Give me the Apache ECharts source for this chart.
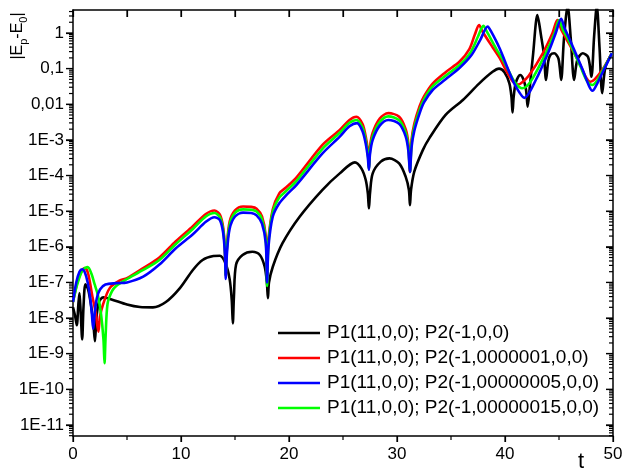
<!DOCTYPE html>
<html>
<head>
<meta charset="utf-8">
<script src="https://cdn.jsdelivr.net/npm/echarts@6/dist/echarts.min.js"></script>
<style>
  html, body { margin: 0; padding: 0; background: #fff; }
  #chart { width: 628px; height: 473px; background: #fff; }
</style>
</head>
<body>
<div id="chart"></div>
<script>
// Energy deviation |Ep - E0| versus time t for four initial positions of P2.
// Values are stored as log10 |Ep - E0| and drawn on a decade-scaled value axis.

const seriesNames = [
  'P1(11,0,0); P2(-1,0,0)',
  'P1(11,0,0); P2(-1,0000001,0,0)',
  'P1(11,0,0); P2(-1,00000005,0,0)',
  'P1(11,0,0); P2(-1,00000015,0,0)'
];

const tBlack = [0,0.2,0.35,0.5,0.6,0.72,0.85,0.97,1.15,1.4,1.7,1.9,2.03,2.17,2.4,2.8,3.5,5.0,6.2,7.4,8.6,9.9,11.1,12.0,13.0,13.6,14.1,14.5,14.7,14.8,14.9,15.1,15.7,16.6,17.3,17.75,17.95,18.05,18.15,18.5,19.4,21.0,23.1,24.7,26.1,26.7,27.1,27.3,27.4,27.5,27.75,28.5,29.3,30.2,30.8,31.1,31.2,31.3,31.6,32.4,33.0,34.5,36.1,37.6,38.85,39.45,39.95,40.4,40.6,40.7,40.8,41.0,41.4,41.7,41.95,42.1,42.3,42.6,43.0,43.35,43.6,43.8,44.0,44.2,44.55,44.95,45.2,45.45,45.8,46.1,46.4,46.7,47.2,47.7,48.0,48.25,48.5,48.75,49.0,49.3,49.9];
const logBlack = [-7.70,-7.95,-8.20,-7.60,-7.30,-7.90,-8.60,-7.70,-7.05,-7.20,-7.70,-8.20,-8.65,-8.00,-7.55,-7.42,-7.47,-7.62,-7.69,-7.70,-7.55,-7.16,-6.65,-6.37,-6.26,-6.25,-6.45,-6.90,-7.50,-8.15,-7.40,-6.50,-6.23,-6.14,-6.23,-6.56,-7.00,-7.44,-7.00,-6.56,-5.90,-5.15,-4.40,-3.94,-3.63,-3.80,-4.12,-4.50,-4.92,-4.50,-3.94,-3.61,-3.52,-3.66,-4.03,-4.40,-4.83,-4.40,-3.89,-3.28,-2.95,-2.30,-1.88,-1.42,-1.09,-1.00,-1.10,-1.41,-1.80,-2.23,-1.80,-1.40,-1.18,-1.30,-1.60,-2.07,-1.50,-0.60,0.50,-0.10,-0.60,-1.32,-0.80,-0.62,-0.57,-0.72,-1.32,-0.20,0.75,-0.20,-1.32,-0.75,-0.57,-0.68,-1.23,-0.10,0.75,-0.40,-1.69,-0.95,-0.57];

const tRed = [0,0.4,0.8,1.1,1.4,1.8,2.1,2.35,2.5,2.8,3.4,4.3,5.0,6.5,8.0,9.5,11.1,12.3,13.1,13.6,13.9,14.05,14.14,14.25,14.5,15.0,15.75,16.5,17.0,17.5,17.85,17.97,18.1,18.5,19.1,19.75,20.7,23.1,24.7,25.6,26.25,26.8,27.1,27.3,27.4,27.5,27.75,28.4,29.2,30.2,30.8,31.05,31.2,31.35,31.6,32.1,32.5,33.3,34.5,35.8,36.7,37.2,37.6,37.9,38.85,39.5,40.1,40.7,41.2,41.6,42.2,43.5,44.4,44.85,45.2,45.6,46.9,47.5,47.9,48.3,49.0,49.9];
const logRed = [-7.55,-7.00,-6.68,-6.60,-6.75,-7.40,-7.85,-8.38,-7.95,-7.60,-7.16,-6.95,-6.88,-6.60,-6.30,-5.85,-5.42,-5.08,-4.98,-5.10,-5.45,-6.00,-6.80,-6.00,-5.30,-4.98,-4.87,-4.88,-4.93,-5.15,-5.70,-6.80,-5.80,-4.95,-4.50,-4.33,-4.05,-3.14,-2.72,-2.44,-2.35,-2.55,-2.90,-3.30,-3.80,-3.20,-2.80,-2.40,-2.25,-2.35,-2.70,-3.10,-3.90,-3.00,-2.55,-2.05,-1.78,-1.42,-1.10,-0.80,-0.45,-0.05,0.22,0.05,-0.40,-0.70,-1.05,-1.35,-1.45,-1.38,-1.20,-0.57,0.00,0.36,0.10,-0.12,-0.85,-1.25,-1.37,-1.30,-1.04,-0.57];

const tBlue = [0,0.3,0.6,0.85,1.1,1.36,1.6,1.75,1.87,2.0,2.2,2.5,3.0,4.0,5.0,6.5,8.0,9.5,11.1,12.3,13.1,13.6,13.9,14.07,14.15,14.25,14.5,15.0,15.75,16.5,17.0,17.5,17.85,17.97,18.1,18.5,19.1,19.75,20.7,23.1,24.7,25.6,26.3,26.8,27.1,27.3,27.4,27.5,27.75,28.4,29.2,30.2,30.8,31.05,31.2,31.35,31.6,32.1,32.5,33.3,34.5,35.8,36.9,37.7,38.4,38.7,39.5,40.4,41.0,41.8,42.85,44.1,44.7,45.2,45.5,45.9,47.2,47.8,48.1,48.4,49.0,49.9];
const logBlue = [-7.55,-7.00,-6.70,-6.63,-6.72,-7.00,-7.45,-7.90,-8.30,-7.90,-7.45,-7.20,-7.06,-7.02,-7.00,-6.84,-6.50,-6.05,-5.65,-5.30,-5.17,-5.25,-5.60,-6.20,-6.90,-6.20,-5.50,-5.15,-5.04,-5.05,-5.12,-5.35,-5.90,-7.00,-6.00,-5.15,-4.78,-4.55,-4.26,-3.38,-2.91,-2.62,-2.53,-2.75,-3.10,-3.50,-3.84,-3.40,-3.00,-2.60,-2.44,-2.55,-2.90,-3.30,-3.90,-3.20,-2.75,-2.25,-1.95,-1.60,-1.30,-0.98,-0.62,-0.20,0.18,0.05,-0.43,-1.10,-1.50,-1.82,-1.32,-0.48,0.00,0.40,0.15,-0.12,-1.04,-1.50,-1.62,-1.50,-1.13,-0.57];

const tGreen = [0,0.4,0.9,1.36,1.7,2.0,2.3,2.6,2.82,2.92,3.02,3.2,3.6,4.0,4.9,6.5,8.0,9.5,11.1,12.3,13.1,13.6,13.9,14.05,14.14,14.25,14.5,15.0,15.75,16.5,17.0,17.5,17.85,17.97,18.1,18.5,19.1,19.75,20.7,23.1,24.7,25.6,26.25,26.8,27.1,27.3,27.4,27.5,27.75,28.4,29.2,30.2,30.8,31.05,31.2,31.35,31.6,32.1,32.5,33.3,34.5,35.8,36.8,37.5,38.0,38.3,39.2,39.8,40.4,41.0,41.6,42.0,42.6,43.8,44.6,45.0,45.35,45.75,47.0,47.6,48.1,48.5,49.0,49.9];
const logGreen = [-7.55,-7.05,-6.65,-6.57,-6.75,-7.05,-7.35,-7.90,-8.60,-9.27,-8.50,-7.60,-7.25,-7.10,-6.92,-6.65,-6.37,-5.93,-5.50,-5.15,-5.05,-5.17,-5.52,-6.00,-6.80,-6.05,-5.38,-5.05,-4.95,-4.96,-5.01,-5.23,-5.80,-7.10,-5.90,-5.02,-4.62,-4.43,-4.15,-3.25,-2.80,-2.52,-2.44,-2.65,-3.00,-3.40,-3.82,-3.30,-2.90,-2.50,-2.34,-2.45,-2.80,-3.20,-3.90,-3.10,-2.65,-2.15,-1.86,-1.50,-1.20,-0.90,-0.55,-0.10,0.20,0.05,-0.45,-0.75,-1.10,-1.42,-1.55,-1.50,-1.25,-0.55,0.00,0.36,0.10,-0.12,-0.95,-1.35,-1.46,-1.35,-1.08,-0.57];

// axis ticks and the printed decade labels
const xMajorTicks = [0, 10, 20, 30, 40, 50];
const xMinorTicks = [5, 15, 25, 35, 45];
const yTickExps = [-11, -10, -9, -8, -7, -6, -5, -4, -3, -2, -1, 0];
const yTickLabels = ['1E-11', '1E-10', '1E-9', '1E-8', '1E-7', '1E-6', '1E-5', '1E-4', '1E-3', '0,01', '0,1', '1'];

const X_MIN = 0, X_MAX = 50;
const Y_MIN = -11.31, Y_MAX = 0.645;
const FONT = 'Liberation Sans, Arial, sans-serif';

// minor decade ticks at log10(2..9)
const yMinorTicks = [];
for (let n = -12; n <= 0; n++) {
  for (let k = 2; k <= 9; k++) {
    const v = n + Math.log10(k);
    if (v > Y_MIN && v < Y_MAX) yMinorTicks.push(v);
  }
}

function pairs(ts, vs) {
  const out = [];
  for (let i = 0; i < Math.min(ts.length, vs.length); i++) out.push([ts[i], vs[i]]);
  return out;
}

function lineSeries(name, color, ts, vs) {
  return {
    name: name,
    type: 'line',
    data: pairs(ts, vs),
    showSymbol: false,
    symbol: 'none',
    smooth: 0.3,
    clip: true,
    lineStyle: { color: color, width: 2.6 },
    itemStyle: { color: color },
    emphasis: { disabled: true }
  };
}

function frameLine() {
  return { show: true, onZero: false, lineStyle: { color: '#000', width: 1.5 } };
}

const titleGraphics = [
  {
    id: 'ytitle', type: 'text', x: 18, y: 36, rotation: Math.PI / 2,
    style: {
      text: '{n||E}{s|p}{n|-E}{s|0}{n||}',
      align: 'center', verticalAlign: 'middle', fill: '#000',
      rich: {
        n: { fontFamily: FONT, fontSize: 16, lineHeight: 22, fill: '#000' },
        s: { fontFamily: FONT, fontSize: 11, lineHeight: 11, verticalAlign: 'bottom', fill: '#000' }
      }
    }
  },
  {
    id: 'xtitle', type: 'text', x: 581, y: 462,
    style: { text: 't', fontFamily: FONT, fontSize: 22, fill: '#000', align: 'center', verticalAlign: 'middle' }
  }
];

const chart = echarts.init(document.getElementById('chart'));
chart.setOption({
  animation: false,
  grid: { left: 73, right: 15, top: 10, bottom: 37, containLabel: false },
  legend: {
    data: seriesNames,
    orient: 'vertical',
    left: 273,
    top: 318,
    icon: 'rect',
    itemWidth: 42,
    itemHeight: 2.5,
    itemGap: 5,
    textStyle: { fontFamily: FONT, fontSize: 19, color: '#000', lineHeight: 20, padding: [0, 0, 0, 2] },
    selectedMode: false
  },
  xAxis: [
    {
      type: 'value', position: 'bottom', min: X_MIN, max: X_MAX, interval: 10,
      axisLine: frameLine(),
      axisTick: { show: true, inside: false, length: 6, lineStyle: { color: '#000', width: 1.2 } },
      axisLabel: { show: true, color: '#000', fontFamily: FONT, fontSize: 17, margin: 10 },
      splitLine: { show: false }
    },
    {
      type: 'value', position: 'top', min: X_MIN, max: X_MAX, interval: 5,
      axisLine: frameLine(),
      axisTick: { show: true, inside: true, length: 7, lineStyle: { color: '#000', width: 1.2 } },
      axisLabel: { show: false },
      splitLine: { show: false }
    }
  ],
  yAxis: [
    {
      type: 'value', position: 'left', min: Y_MIN, max: Y_MAX,
      axisLine: frameLine(),
      axisTick: { show: true, inside: false, length: 7, customValues: yTickExps, lineStyle: { color: '#000', width: 1.2 } },
      axisLabel: {
        show: true, color: '#000', fontFamily: FONT, fontSize: 17, margin: 9,
        customValues: yTickExps,
        formatter: function (v) {
          const i = yTickExps.indexOf(Math.round(v));
          return i >= 0 ? yTickLabels[i] : '';
        }
      },
      splitLine: { show: false }
    },
    {
      type: 'value', position: 'right', min: Y_MIN, max: Y_MAX,
      axisLine: frameLine(),
      axisTick: { show: true, inside: true, length: 7, customValues: yTickExps, lineStyle: { color: '#000', width: 1.2 } },
      axisLabel: { show: false },
      splitLine: { show: false }
    }
  ],
  graphic: titleGraphics,
  series: [
    lineSeries(seriesNames[0], '#000000', tBlack, logBlack),
    lineSeries(seriesNames[1], '#ff0000', tRed, logRed),
    lineSeries(seriesNames[3], '#00ff00', tGreen, logGreen),
    lineSeries(seriesNames[2], '#0000ff', tBlue, logBlue)
  ]
});

// Frame ticks placed through the grid's own scales (left/bottom outward, right/top inward).
function tickLine(id, from, dx, dy) {
  return {
    id: id, type: 'line', silent: true, z: 10,
    shape: { x1: from[0], y1: from[1], x2: from[0] + dx, y2: from[1] + dy },
    style: { stroke: '#000', lineWidth: 1.2 }
  };
}
const tickGraphics = [];
const toPx = function (pt) { return chart.convertToPixel({ gridIndex: 0 }, pt); };
yTickExps.concat(yMinorTicks).forEach(function (v, i) {
  const len = i < yTickExps.length ? 7 : 4;
  tickGraphics.push(tickLine('tl' + i, toPx([X_MIN, v]), -len, 0));
  tickGraphics.push(tickLine('tr' + i, toPx([X_MAX, v]), -len, 0));
});
xMajorTicks.concat(xMinorTicks).forEach(function (v, i) {
  const len = i < xMajorTicks.length ? 6 : 4;
  tickGraphics.push(tickLine('tb' + i, toPx([v, Y_MIN]), 0, len));
  tickGraphics.push(tickLine('tt' + i, toPx([v, Y_MAX]), 0, 7));
});
chart.setOption({ graphic: titleGraphics.concat(tickGraphics) });
</script>
</body>
</html>
